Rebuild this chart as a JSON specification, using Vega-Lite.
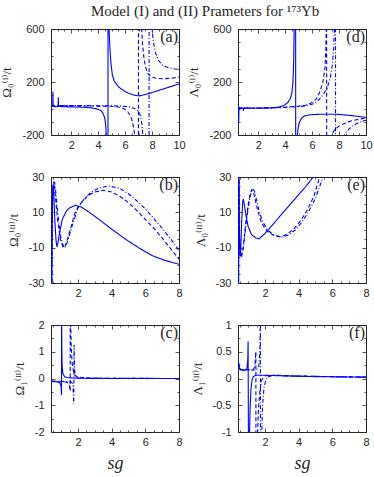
{
"$schema":"https://vega.github.io/schema/vega-lite/v6.json",
"padding":{"left":0,"top":3,"right":2,"bottom":2},
"title":{"text":"Model (I) and (II) Prameters for ¹⁷³Yb","font":"Liberation Serif","fontSize":15,"fontWeight":"normal","color":"#262626","anchor":"start","frame":"group","dx":40,"offset":4},
"datasets":{"d":[
{"p":"a","s":"S","x":0.5,"y":15},{"p":"a","s":"S","x":0.6,"y":15},{"p":"a","s":"S","x":0.63,"y":20},{"p":"a","s":"S","x":0.645,"y":127},{"p":"a","s":"S","x":0.66,"y":18},{"p":"a","s":"S","x":0.8,"y":14},{"p":"a","s":"S","x":1.0,"y":14},{"p":"a","s":"S","x":1.03,"y":18},{"p":"a","s":"S","x":1.045,"y":84},{"p":"a","s":"S","x":1.06,"y":16},{"p":"a","s":"S","x":1.5,"y":13},{"p":"a","s":"S","x":2,"y":12},{"p":"a","s":"S","x":2.5,"y":11},{"p":"a","s":"S","x":3,"y":9},{"p":"a","s":"S","x":3.5,"y":5},{"p":"a","s":"S","x":3.9,"y":-3},{"p":"a","s":"S","x":4.2,"y":-15},{"p":"a","s":"S","x":4.35,"y":-35},{"p":"a","s":"S","x":4.45,"y":-60},{"p":"a","s":"S","x":4.52,"y":-90},{"p":"a","s":"S","x":4.57,"y":-140},{"p":"a","s":"S","x":4.61,"y":-210},{"p":"a","s":"S","x":4.72,"y":-3000},{"p":"a","s":"S","x":4.74,"y":3000},{"p":"a","s":"S","x":4.8,"y":620},{"p":"a","s":"S","x":4.88,"y":441},{"p":"a","s":"S","x":4.95,"y":341},{"p":"a","s":"S","x":5.05,"y":255},{"p":"a","s":"S","x":5.2,"y":205},{"p":"a","s":"S","x":5.55,"y":160},{"p":"a","s":"S","x":6.0,"y":128},{"p":"a","s":"S","x":6.3,"y":113},{"p":"a","s":"S","x":6.7,"y":100},{"p":"a","s":"S","x":7.03,"y":95},{"p":"a","s":"S","x":7.5,"y":105},{"p":"a","s":"S","x":8,"y":120},{"p":"a","s":"S","x":8.5,"y":137},{"p":"a","s":"S","x":9,"y":153},{"p":"a","s":"S","x":9.5,"y":169},{"p":"a","s":"S","x":10,"y":185},
{"p":"a","s":"D","x":0.5,"y":20},{"p":"a","s":"D","x":1,"y":20},{"p":"a","s":"D","x":2,"y":20},{"p":"a","s":"D","x":3,"y":19},{"p":"a","s":"D","x":4,"y":18},{"p":"a","s":"D","x":4.8,"y":17},{"p":"a","s":"D","x":5.3,"y":14},{"p":"a","s":"D","x":5.7,"y":8},{"p":"a","s":"D","x":6.0,"y":-8},{"p":"a","s":"D","x":6.2,"y":-25},{"p":"a","s":"D","x":6.4,"y":-55},{"p":"a","s":"D","x":6.55,"y":-100},{"p":"a","s":"D","x":6.66,"y":-160},{"p":"a","s":"D","x":6.72,"y":-210},{"p":"a","s":"D","x":6.98,"y":-3000},{"p":"a","s":"D","x":7.0,"y":3000},{"p":"a","s":"D","x":7.22,"y":620},{"p":"a","s":"D","x":7.3,"y":480},{"p":"a","s":"D","x":7.4,"y":380},{"p":"a","s":"D","x":7.5,"y":320},{"p":"a","s":"D","x":7.65,"y":270},{"p":"a","s":"D","x":7.9,"y":240},{"p":"a","s":"D","x":8.3,"y":228},{"p":"a","s":"D","x":8.8,"y":224},{"p":"a","s":"D","x":9.4,"y":228},{"p":"a","s":"D","x":10,"y":237},
{"p":"a","s":"C","x":0.5,"y":22},{"p":"a","s":"C","x":2,"y":22},{"p":"a","s":"C","x":4,"y":21},{"p":"a","s":"C","x":5,"y":20},{"p":"a","s":"C","x":5.8,"y":18},{"p":"a","s":"C","x":6.3,"y":12},{"p":"a","s":"C","x":6.7,"y":0},{"p":"a","s":"C","x":7.0,"y":-20},{"p":"a","s":"C","x":7.15,"y":-60},{"p":"a","s":"C","x":7.25,"y":-120},{"p":"a","s":"C","x":7.32,"y":-210},{"p":"a","s":"C","x":7.77,"y":-3000},{"p":"a","s":"C","x":7.79,"y":3000},{"p":"a","s":"C","x":7.98,"y":620},{"p":"a","s":"C","x":8.1,"y":500},{"p":"a","s":"C","x":8.27,"y":416},{"p":"a","s":"C","x":8.5,"y":360},{"p":"a","s":"C","x":8.77,"y":328},{"p":"a","s":"C","x":9.2,"y":308},{"p":"a","s":"C","x":9.6,"y":300},{"p":"a","s":"C","x":10,"y":296},
{"p":"d","s":"S","x":0.5,"y":5},{"p":"d","s":"S","x":0.53,"y":5},{"p":"d","s":"S","x":0.55,"y":-112},{"p":"d","s":"S","x":0.57,"y":5},{"p":"d","s":"S","x":0.8,"y":3},{"p":"d","s":"S","x":0.88,"y":3},{"p":"d","s":"S","x":0.9,"y":-19},{"p":"d","s":"S","x":0.92,"y":3},{"p":"d","s":"S","x":1.5,"y":2},{"p":"d","s":"S","x":2,"y":2},{"p":"d","s":"S","x":2.5,"y":3},{"p":"d","s":"S","x":3,"y":5},{"p":"d","s":"S","x":3.5,"y":10},{"p":"d","s":"S","x":3.9,"y":22},{"p":"d","s":"S","x":4.2,"y":45},{"p":"d","s":"S","x":4.4,"y":80},{"p":"d","s":"S","x":4.5,"y":120},{"p":"d","s":"S","x":4.58,"y":200},{"p":"d","s":"S","x":4.63,"y":350},{"p":"d","s":"S","x":4.67,"y":620},{"p":"d","s":"S","x":4.77,"y":3000},{"p":"d","s":"S","x":4.79,"y":-3000},{"p":"d","s":"S","x":4.9,"y":-210},{"p":"d","s":"S","x":4.96,"y":-150},{"p":"d","s":"S","x":5.03,"y":-112},{"p":"d","s":"S","x":5.2,"y":-75},{"p":"d","s":"S","x":5.4,"y":-57},{"p":"d","s":"S","x":5.8,"y":-48},{"p":"d","s":"S","x":6.4,"y":-44},{"p":"d","s":"S","x":7.2,"y":-43},{"p":"d","s":"S","x":7.9,"y":-44},{"p":"d","s":"S","x":8.6,"y":-50},{"p":"d","s":"S","x":9.3,"y":-58},{"p":"d","s":"S","x":10,"y":-67},
{"p":"d","s":"D","x":0.5,"y":3},{"p":"d","s":"D","x":1,"y":3},{"p":"d","s":"D","x":2,"y":4},{"p":"d","s":"D","x":3,"y":6},{"p":"d","s":"D","x":4,"y":10},{"p":"d","s":"D","x":5,"y":18},{"p":"d","s":"D","x":5.5,"y":25},{"p":"d","s":"D","x":5.9,"y":40},{"p":"d","s":"D","x":6.3,"y":70},{"p":"d","s":"D","x":6.6,"y":130},{"p":"d","s":"D","x":6.8,"y":200},{"p":"d","s":"D","x":6.95,"y":300},{"p":"d","s":"D","x":7.02,"y":450},{"p":"d","s":"D","x":7.05,"y":620},{"p":"d","s":"D","x":7.07,"y":3000},{"p":"d","s":"D","x":7.09,"y":-3000},{"p":"d","s":"D","x":7.4,"y":-230},{"p":"d","s":"D","x":7.5,"y":-190},{"p":"d","s":"D","x":7.7,"y":-155},{"p":"d","s":"D","x":8.12,"y":-125},{"p":"d","s":"D","x":8.87,"y":-95},{"p":"d","s":"D","x":9.5,"y":-80},{"p":"d","s":"D","x":10,"y":-72},
{"p":"d","s":"C","x":0.5,"y":3},{"p":"d","s":"C","x":2,"y":4},{"p":"d","s":"C","x":3,"y":5},{"p":"d","s":"C","x":4,"y":8},{"p":"d","s":"C","x":5,"y":14},{"p":"d","s":"C","x":5.5,"y":20},{"p":"d","s":"C","x":6,"y":32},{"p":"d","s":"C","x":6.4,"y":55},{"p":"d","s":"C","x":6.8,"y":100},{"p":"d","s":"C","x":7.1,"y":150},{"p":"d","s":"C","x":7.35,"y":230},{"p":"d","s":"C","x":7.5,"y":330},{"p":"d","s":"C","x":7.6,"y":450},{"p":"d","s":"C","x":7.66,"y":620},{"p":"d","s":"C","x":7.73,"y":3000},{"p":"d","s":"C","x":7.75,"y":-3000},{"p":"d","s":"C","x":8.3,"y":-220},{"p":"d","s":"C","x":8.5,"y":-180},{"p":"d","s":"C","x":8.8,"y":-150},{"p":"d","s":"C","x":9.11,"y":-125},{"p":"d","s":"C","x":9.5,"y":-105},{"p":"d","s":"C","x":10,"y":-88},
{"p":"b","s":"S","x":0.44,"y":-40},{"p":"b","s":"S","x":0.47,"y":5},{"p":"b","s":"S","x":0.5,"y":22},{"p":"b","s":"S","x":0.53,"y":26},{"p":"b","s":"S","x":0.57,"y":20},{"p":"b","s":"S","x":0.63,"y":5},{"p":"b","s":"S","x":0.7,"y":-6},{"p":"b","s":"S","x":0.75,"y":-9.5},{"p":"b","s":"S","x":0.8,"y":-8},{"p":"b","s":"S","x":0.9,"y":-2},{"p":"b","s":"S","x":1.07,"y":6},{"p":"b","s":"S","x":1.3,"y":10.5},{"p":"b","s":"S","x":1.5,"y":12.5},{"p":"b","s":"S","x":1.85,"y":14},{"p":"b","s":"S","x":2.2,"y":13},{"p":"b","s":"S","x":2.6,"y":10.5},{"p":"b","s":"S","x":3.25,"y":6},{"p":"b","s":"S","x":4,"y":0.5},{"p":"b","s":"S","x":4.84,"y":-5.3},{"p":"b","s":"S","x":5.6,"y":-10},{"p":"b","s":"S","x":6.4,"y":-14.5},{"p":"b","s":"S","x":7.2,"y":-17.3},{"p":"b","s":"S","x":8,"y":-19.4},
{"p":"b","s":"D","x":0.44,"y":-40},{"p":"b","s":"D","x":0.47,"y":10},{"p":"b","s":"D","x":0.53,"y":26},{"p":"b","s":"D","x":0.58,"y":27.5},{"p":"b","s":"D","x":0.65,"y":20},{"p":"b","s":"D","x":0.8,"y":5},{"p":"b","s":"D","x":0.95,"y":-5},{"p":"b","s":"D","x":1.1,"y":-9.5},{"p":"b","s":"D","x":1.2,"y":-10},{"p":"b","s":"D","x":1.35,"y":-6},{"p":"b","s":"D","x":1.6,"y":2},{"p":"b","s":"D","x":1.8,"y":9},{"p":"b","s":"D","x":2.0,"y":13},{"p":"b","s":"D","x":2.2,"y":15.5},{"p":"b","s":"D","x":2.6,"y":19.5},{"p":"b","s":"D","x":3.0,"y":21.5},{"p":"b","s":"D","x":3.5,"y":22.5},{"p":"b","s":"D","x":4.0,"y":21.5},{"p":"b","s":"D","x":4.5,"y":19},{"p":"b","s":"D","x":5,"y":15.5},{"p":"b","s":"D","x":5.5,"y":11},{"p":"b","s":"D","x":6,"y":6},{"p":"b","s":"D","x":6.5,"y":1},{"p":"b","s":"D","x":7,"y":-4.5},{"p":"b","s":"D","x":7.5,"y":-10.5},{"p":"b","s":"D","x":8,"y":-16.5},
{"p":"b","s":"C","x":0.44,"y":-40},{"p":"b","s":"C","x":0.48,"y":10},{"p":"b","s":"C","x":0.55,"y":25},{"p":"b","s":"C","x":0.62,"y":27},{"p":"b","s":"C","x":0.7,"y":20},{"p":"b","s":"C","x":0.85,"y":5},{"p":"b","s":"C","x":1.0,"y":-5},{"p":"b","s":"C","x":1.15,"y":-9.5},{"p":"b","s":"C","x":1.25,"y":-10},{"p":"b","s":"C","x":1.4,"y":-6},{"p":"b","s":"C","x":1.65,"y":2},{"p":"b","s":"C","x":2,"y":12.5},{"p":"b","s":"C","x":2.4,"y":18},{"p":"b","s":"C","x":2.8,"y":21.5},{"p":"b","s":"C","x":3.2,"y":23.5},{"p":"b","s":"C","x":3.8,"y":25},{"p":"b","s":"C","x":4.5,"y":23.5},{"p":"b","s":"C","x":5,"y":20.5},{"p":"b","s":"C","x":5.5,"y":16.5},{"p":"b","s":"C","x":6,"y":12},{"p":"b","s":"C","x":6.5,"y":6.5},{"p":"b","s":"C","x":7,"y":1},{"p":"b","s":"C","x":7.5,"y":-5},{"p":"b","s":"C","x":8,"y":-11.5},
{"p":"e","s":"S","x":0.43,"y":-40},{"p":"e","s":"S","x":0.45,"y":40},{"p":"e","s":"S","x":0.48,"y":0},{"p":"e","s":"S","x":0.52,"y":-15},{"p":"e","s":"S","x":0.56,"y":-12},{"p":"e","s":"S","x":0.62,"y":5},{"p":"e","s":"S","x":0.68,"y":16},{"p":"e","s":"S","x":0.72,"y":17.5},{"p":"e","s":"S","x":0.78,"y":14},{"p":"e","s":"S","x":0.88,"y":8},{"p":"e","s":"S","x":1.0,"y":2},{"p":"e","s":"S","x":1.2,"y":-2.5},{"p":"e","s":"S","x":1.45,"y":-4.5},{"p":"e","s":"S","x":1.65,"y":-5},{"p":"e","s":"S","x":2.0,"y":-2},{"p":"e","s":"S","x":2.5,"y":3.5},{"p":"e","s":"S","x":3,"y":9},{"p":"e","s":"S","x":3.5,"y":14.5},{"p":"e","s":"S","x":4,"y":20},{"p":"e","s":"S","x":4.5,"y":25.5},{"p":"e","s":"S","x":4.95,"y":31},
{"p":"e","s":"D","x":0.43,"y":-40},{"p":"e","s":"D","x":0.45,"y":40},{"p":"e","s":"D","x":0.48,"y":0},{"p":"e","s":"D","x":0.53,"y":-14},{"p":"e","s":"D","x":0.6,"y":-15.5},{"p":"e","s":"D","x":0.7,"y":-11},{"p":"e","s":"D","x":0.85,"y":3},{"p":"e","s":"D","x":1.0,"y":14},{"p":"e","s":"D","x":1.12,"y":20.5},{"p":"e","s":"D","x":1.22,"y":22.8},{"p":"e","s":"D","x":1.32,"y":21.5},{"p":"e","s":"D","x":1.45,"y":16},{"p":"e","s":"D","x":1.6,"y":10},{"p":"e","s":"D","x":1.8,"y":4},{"p":"e","s":"D","x":2.1,"y":-0.5},{"p":"e","s":"D","x":2.5,"y":-3},{"p":"e","s":"D","x":2.9,"y":-3.8},{"p":"e","s":"D","x":3.3,"y":-2.5},{"p":"e","s":"D","x":3.7,"y":0.5},{"p":"e","s":"D","x":4.1,"y":5},{"p":"e","s":"D","x":4.5,"y":11},{"p":"e","s":"D","x":4.9,"y":19},{"p":"e","s":"D","x":5.25,"y":30},{"p":"e","s":"D","x":5.3,"y":31},
{"p":"e","s":"C","x":0.43,"y":-40},{"p":"e","s":"C","x":0.45,"y":40},{"p":"e","s":"C","x":0.48,"y":0},{"p":"e","s":"C","x":0.54,"y":-13},{"p":"e","s":"C","x":0.62,"y":-14.5},{"p":"e","s":"C","x":0.72,"y":-10},{"p":"e","s":"C","x":0.88,"y":4},{"p":"e","s":"C","x":1.05,"y":15},{"p":"e","s":"C","x":1.18,"y":21.5},{"p":"e","s":"C","x":1.28,"y":23.2},{"p":"e","s":"C","x":1.38,"y":22},{"p":"e","s":"C","x":1.5,"y":17},{"p":"e","s":"C","x":1.65,"y":11},{"p":"e","s":"C","x":1.85,"y":5},{"p":"e","s":"C","x":2.15,"y":0},{"p":"e","s":"C","x":2.55,"y":-3},{"p":"e","s":"C","x":3.0,"y":-4},{"p":"e","s":"C","x":3.4,"y":-2.8},{"p":"e","s":"C","x":3.8,"y":0},{"p":"e","s":"C","x":4.2,"y":4.5},{"p":"e","s":"C","x":4.6,"y":10.5},{"p":"e","s":"C","x":5.0,"y":18},{"p":"e","s":"C","x":5.45,"y":30},{"p":"e","s":"C","x":5.5,"y":31},
{"p":"c","s":"S","x":0.42,"y":-0.1},{"p":"c","s":"S","x":0.6,"y":-0.12},{"p":"c","s":"S","x":0.8,"y":-0.13},{"p":"c","s":"S","x":0.95,"y":-0.17},{"p":"c","s":"S","x":1.0,"y":-0.3},{"p":"c","s":"S","x":1.025,"y":-0.62},{"p":"c","s":"S","x":1.03,"y":3},{"p":"c","s":"S","x":1.04,"y":1.2},{"p":"c","s":"S","x":1.06,"y":0.5},{"p":"c","s":"S","x":1.1,"y":0.2},{"p":"c","s":"S","x":1.2,"y":0.07},{"p":"c","s":"S","x":1.4,"y":0.03},{"p":"c","s":"S","x":2,"y":0.01},{"p":"c","s":"S","x":4,"y":0},{"p":"c","s":"S","x":8,"y":0},
{"p":"c","s":"D","x":0.42,"y":-0.1},{"p":"c","s":"D","x":1.0,"y":-0.12},{"p":"c","s":"D","x":1.35,"y":-0.14},{"p":"c","s":"D","x":1.48,"y":-0.22},{"p":"c","s":"D","x":1.54,"y":-0.47},{"p":"c","s":"D","x":1.545,"y":3},{"p":"c","s":"D","x":1.56,"y":2.4},{"p":"c","s":"D","x":1.6,"y":1.2},{"p":"c","s":"D","x":1.65,"y":0.6},{"p":"c","s":"D","x":1.72,"y":0.3},{"p":"c","s":"D","x":1.82,"y":0.12},{"p":"c","s":"D","x":2,"y":0.05},{"p":"c","s":"D","x":3,"y":0.01},{"p":"c","s":"D","x":8,"y":0},
{"p":"c","s":"C","x":0.42,"y":-0.1},{"p":"c","s":"C","x":1.2,"y":-0.11},{"p":"c","s":"C","x":1.6,"y":-0.13},{"p":"c","s":"C","x":1.7,"y":-0.2},{"p":"c","s":"C","x":1.75,"y":-0.95},{"p":"c","s":"C","x":1.77,"y":1.26},{"p":"c","s":"C","x":1.8,"y":0.3},{"p":"c","s":"C","x":1.85,"y":0.1},{"p":"c","s":"C","x":1.95,"y":0.03},{"p":"c","s":"C","x":2.2,"y":0.01},{"p":"c","s":"C","x":8,"y":0},
{"p":"f","s":"S","x":0.42,"y":0.32},{"p":"f","s":"S","x":0.48,"y":0.2},{"p":"f","s":"S","x":0.55,"y":0.16},{"p":"f","s":"S","x":0.8,"y":0.155},{"p":"f","s":"S","x":0.93,"y":0.18},{"p":"f","s":"S","x":0.98,"y":0.35},{"p":"f","s":"S","x":1.0,"y":0.69},{"p":"f","s":"S","x":1.04,"y":-3},{"p":"f","s":"S","x":1.08,"y":-1.1},{"p":"f","s":"S","x":1.12,"y":-0.55},{"p":"f","s":"S","x":1.17,"y":-0.2},{"p":"f","s":"S","x":1.24,"y":-0.02},{"p":"f","s":"S","x":1.32,"y":0.04},{"p":"f","s":"S","x":1.5,"y":0.06},{"p":"f","s":"S","x":2,"y":0.06},{"p":"f","s":"S","x":3,"y":0.05},{"p":"f","s":"S","x":5,"y":0.035},{"p":"f","s":"S","x":8,"y":0.025},
{"p":"f","s":"D","x":0.42,"y":0.3},{"p":"f","s":"D","x":0.5,"y":0.18},{"p":"f","s":"D","x":0.7,"y":0.16},{"p":"f","s":"D","x":1.3,"y":0.165},{"p":"f","s":"D","x":1.4,"y":0.22},{"p":"f","s":"D","x":1.46,"y":0.5},{"p":"f","s":"D","x":1.47,"y":-3},{"p":"f","s":"D","x":1.55,"y":-1.1},{"p":"f","s":"D","x":1.62,"y":-0.55},{"p":"f","s":"D","x":1.7,"y":-0.22},{"p":"f","s":"D","x":1.8,"y":-0.03},{"p":"f","s":"D","x":2.0,"y":0.05},{"p":"f","s":"D","x":2.5,"y":0.06},{"p":"f","s":"D","x":4,"y":0.045},{"p":"f","s":"D","x":8,"y":0.025},
{"p":"f","s":"C","x":0.42,"y":0.3},{"p":"f","s":"C","x":0.5,"y":0.18},{"p":"f","s":"C","x":0.7,"y":0.16},{"p":"f","s":"C","x":1.5,"y":0.16},{"p":"f","s":"C","x":1.63,"y":0.22},{"p":"f","s":"C","x":1.7,"y":0.5},{"p":"f","s":"C","x":1.73,"y":1.2},{"p":"f","s":"C","x":1.735,"y":-3},{"p":"f","s":"C","x":1.8,"y":-1.1},{"p":"f","s":"C","x":1.86,"y":-0.5},{"p":"f","s":"C","x":1.95,"y":-0.15},{"p":"f","s":"C","x":2.1,"y":0.02},{"p":"f","s":"C","x":2.5,"y":0.06},{"p":"f","s":"C","x":4,"y":0.045},{"p":"f","s":"C","x":8,"y":0.025}
]},
"data":{"name":"d"},
"columns":2,
"spacing":{"row":42,"column":59},
"bounds":"flush",
"concat":[
{"width":128,"height":106,
 "title":{"text":"(a)","anchor":"end","frame":"group","offset":-22,"dx":-1,"font":"Liberation Serif","fontSize":16,"fontWeight":"normal","color":"#262626"},
 "transform":[{"filter":"datum.p==='a'"}],
 "layer":[
  {"mark":{"type":"line","clip":true,"color":"#0000ff","strokeWidth":1.1},
   "encoding":{
    "x":{"field":"x","type":"quantitative","scale":{"domain":[0.5,10],"nice":false,"zero":false},"axis":{"title":null,"values":[0.5,1,1.5,2,2.5,3,3.5,4,4.5,5,5.5,6,6.5,7,7.5,8,8.5,9,9.5,10],"labelExpr":"datum.value % 2 === 0 ? datum.value + '' : ''","tickSize":{"condition":{"test":"datum.value % 2 === 0","value":-4},"value":-2},"labelPadding":8}},
    "y":{"field":"y","type":"quantitative","scale":{"domain":[-200,600],"nice":false,"zero":false},"axis":{"title":"Ω₀⁽ᴵ⁾/t","values":[-200,-100,0,100,200,300,400,500,600],"labelExpr":"(datum.value + 200) % 400 === 0 ? datum.value + '' : ''","tickSize":{"condition":{"test":"(datum.value + 200) % 400 === 0","value":-4},"value":-2},"labelPadding":11,"titlePadding":8}},
    "strokeDash":{"field":"s","type":"nominal","scale":{"domain":["S","D","C"],"range":[[1,0],[4,2.5],[4,2,1,2]]},"legend":null}}},
  {"mark":{"type":"point","opacity":0,"clip":true},
   "encoding":{
    "x":{"field":"x","type":"quantitative","axis":{"orient":"top","title":null,"labels":false,"values":[0.5,1,1.5,2,2.5,3,3.5,4,4.5,5,5.5,6,6.5,7,7.5,8,8.5,9,9.5,10],"tickSize":{"condition":{"test":"datum.value % 2 === 0","value":-4},"value":-2}}},
    "y":{"field":"y","type":"quantitative","axis":{"orient":"right","title":null,"labels":false,"values":[-200,-100,0,100,200,300,400,500,600],"tickSize":{"condition":{"test":"(datum.value + 200) % 400 === 0","value":-4},"value":-2}}}}}
 ],
 "resolve":{"axis":{"x":"independent","y":"independent"}}},
{"width":128,"height":106,
 "title":{"text":"(d)","anchor":"end","frame":"group","offset":-22,"dx":-1,"font":"Liberation Serif","fontSize":16,"fontWeight":"normal","color":"#262626"},
 "transform":[{"filter":"datum.p==='d'"}],
 "layer":[
  {"mark":{"type":"line","clip":true,"color":"#0000ff","strokeWidth":1.1},
   "encoding":{
    "x":{"field":"x","type":"quantitative","scale":{"domain":[0.5,10],"nice":false,"zero":false},"axis":{"title":null,"values":[0.5,1,1.5,2,2.5,3,3.5,4,4.5,5,5.5,6,6.5,7,7.5,8,8.5,9,9.5,10],"labelExpr":"datum.value % 2 === 0 ? datum.value + '' : ''","tickSize":{"condition":{"test":"datum.value % 2 === 0","value":-4},"value":-2},"labelPadding":8}},
    "y":{"field":"y","type":"quantitative","scale":{"domain":[-200,600],"nice":false,"zero":false},"axis":{"title":"Λ₀⁽ᴵ⁾/t","values":[-200,-100,0,100,200,300,400,500,600],"labelExpr":"(datum.value + 200) % 400 === 0 ? datum.value + '' : ''","tickSize":{"condition":{"test":"(datum.value + 200) % 400 === 0","value":-4},"value":-2},"labelPadding":11,"titlePadding":8}},
    "strokeDash":{"field":"s","type":"nominal","scale":{"domain":["S","D","C"],"range":[[1,0],[4,2.5],[4,2,1,2]]},"legend":null}}},
  {"mark":{"type":"point","opacity":0,"clip":true},
   "encoding":{
    "x":{"field":"x","type":"quantitative","axis":{"orient":"top","title":null,"labels":false,"values":[0.5,1,1.5,2,2.5,3,3.5,4,4.5,5,5.5,6,6.5,7,7.5,8,8.5,9,9.5,10],"tickSize":{"condition":{"test":"datum.value % 2 === 0","value":-4},"value":-2}}},
    "y":{"field":"y","type":"quantitative","axis":{"orient":"right","title":null,"labels":false,"values":[-200,-100,0,100,200,300,400,500,600],"tickSize":{"condition":{"test":"(datum.value + 200) % 400 === 0","value":-4},"value":-2}}}}}
 ],
 "resolve":{"axis":{"x":"independent","y":"independent"}}},
{"width":128,"height":106,
 "title":{"text":"(b)","anchor":"end","frame":"group","offset":-22,"dx":-1,"font":"Liberation Serif","fontSize":16,"fontWeight":"normal","color":"#262626"},
 "transform":[{"filter":"datum.p==='b'"}],
 "layer":[
  {"mark":{"type":"line","clip":true,"color":"#0000ff","strokeWidth":1.1},
   "encoding":{
    "x":{"field":"x","type":"quantitative","scale":{"domain":[0.4,8],"nice":false,"zero":false},"axis":{"title":null,"values":[0.5,1,1.5,2,2.5,3,3.5,4,4.5,5,5.5,6,6.5,7,7.5,8],"labelExpr":"datum.value % 2 === 0 ? datum.value + '' : ''","tickSize":{"condition":{"test":"datum.value % 2 === 0","value":-4},"value":-2},"labelPadding":8}},
    "y":{"field":"y","type":"quantitative","scale":{"domain":[-30,30],"nice":false,"zero":false},"axis":{"title":"Ω₀⁽ᴵᴵ⁾/t","values":[-30,-25,-20,-15,-10,-5,0,5,10,15,20,25,30],"labelExpr":"(datum.value + 30) % 20 === 0 ? datum.value + '' : ''","tickSize":{"condition":{"test":"(datum.value + 30) % 20 === 0","value":-4},"value":-2},"labelPadding":11,"titlePadding":8}},
    "strokeDash":{"field":"s","type":"nominal","scale":{"domain":["S","D","C"],"range":[[1,0],[4,2.5],[4,2,1,2]]},"legend":null}}},
  {"mark":{"type":"point","opacity":0,"clip":true},
   "encoding":{
    "x":{"field":"x","type":"quantitative","axis":{"orient":"top","title":null,"labels":false,"values":[0.5,1,1.5,2,2.5,3,3.5,4,4.5,5,5.5,6,6.5,7,7.5,8],"tickSize":{"condition":{"test":"datum.value % 2 === 0","value":-4},"value":-2}}},
    "y":{"field":"y","type":"quantitative","axis":{"orient":"right","title":null,"labels":false,"values":[-30,-25,-20,-15,-10,-5,0,5,10,15,20,25,30],"tickSize":{"condition":{"test":"(datum.value + 30) % 20 === 0","value":-4},"value":-2}}}}}
 ],
 "resolve":{"axis":{"x":"independent","y":"independent"}}},
{"width":128,"height":106,
 "title":{"text":"(e)","anchor":"end","frame":"group","offset":-22,"dx":-1,"font":"Liberation Serif","fontSize":16,"fontWeight":"normal","color":"#262626"},
 "transform":[{"filter":"datum.p==='e'"}],
 "layer":[
  {"mark":{"type":"line","clip":true,"color":"#0000ff","strokeWidth":1.1},
   "encoding":{
    "x":{"field":"x","type":"quantitative","scale":{"domain":[0.4,8],"nice":false,"zero":false},"axis":{"title":null,"values":[0.5,1,1.5,2,2.5,3,3.5,4,4.5,5,5.5,6,6.5,7,7.5,8],"labelExpr":"datum.value % 2 === 0 ? datum.value + '' : ''","tickSize":{"condition":{"test":"datum.value % 2 === 0","value":-4},"value":-2},"labelPadding":8}},
    "y":{"field":"y","type":"quantitative","scale":{"domain":[-30,30],"nice":false,"zero":false},"axis":{"title":"Λ₀⁽ᴵᴵ⁾/t","values":[-30,-25,-20,-15,-10,-5,0,5,10,15,20,25,30],"labelExpr":"(datum.value + 30) % 20 === 0 ? datum.value + '' : ''","tickSize":{"condition":{"test":"(datum.value + 30) % 20 === 0","value":-4},"value":-2},"labelPadding":11,"titlePadding":8}},
    "strokeDash":{"field":"s","type":"nominal","scale":{"domain":["S","D","C"],"range":[[1,0],[4,2.5],[4,2,1,2]]},"legend":null}}},
  {"mark":{"type":"point","opacity":0,"clip":true},
   "encoding":{
    "x":{"field":"x","type":"quantitative","axis":{"orient":"top","title":null,"labels":false,"values":[0.5,1,1.5,2,2.5,3,3.5,4,4.5,5,5.5,6,6.5,7,7.5,8],"tickSize":{"condition":{"test":"datum.value % 2 === 0","value":-4},"value":-2}}},
    "y":{"field":"y","type":"quantitative","axis":{"orient":"right","title":null,"labels":false,"values":[-30,-25,-20,-15,-10,-5,0,5,10,15,20,25,30],"tickSize":{"condition":{"test":"(datum.value + 30) % 20 === 0","value":-4},"value":-2}}}}}
 ],
 "resolve":{"axis":{"x":"independent","y":"independent"}}},
{"width":128,"height":107,
 "title":{"text":"(c)","anchor":"end","frame":"group","offset":-22,"dx":-1,"font":"Liberation Serif","fontSize":16,"fontWeight":"normal","color":"#262626"},
 "transform":[{"filter":"datum.p==='c'"}],
 "layer":[
  {"mark":{"type":"line","clip":true,"color":"#0000ff","strokeWidth":1.1},
   "encoding":{
    "x":{"field":"x","type":"quantitative","scale":{"domain":[0.4,8],"nice":false,"zero":false},"axis":{"title":"sg","titleFont":"Liberation Serif","titleFontSize":18,"titleFontStyle":"italic","titlePadding":5,"values":[0.5,1,1.5,2,2.5,3,3.5,4,4.5,5,5.5,6,6.5,7,7.5,8],"labelExpr":"datum.value % 2 === 0 ? datum.value + '' : ''","tickSize":{"condition":{"test":"datum.value % 2 === 0","value":-4},"value":-2},"labelPadding":8}},
    "y":{"field":"y","type":"quantitative","scale":{"domain":[-2,2],"nice":false,"zero":false},"axis":{"title":"Ω₁⁽ᴵᴵ⁾/t","values":[-2,-1.5,-1,-0.5,0,0.5,1,1.5,2],"labelExpr":"datum.value % 1 === 0 ? datum.value + '' : ''","tickSize":{"condition":{"test":"datum.value % 1 === 0","value":-4},"value":-2},"labelPadding":11,"titlePadding":8}},
    "strokeDash":{"field":"s","type":"nominal","scale":{"domain":["S","D","C"],"range":[[1,0],[4,2.5],[4,2,1,2]]},"legend":null}}},
  {"mark":{"type":"point","opacity":0,"clip":true},
   "encoding":{
    "x":{"field":"x","type":"quantitative","axis":{"orient":"top","title":null,"labels":false,"values":[0.5,1,1.5,2,2.5,3,3.5,4,4.5,5,5.5,6,6.5,7,7.5,8],"tickSize":{"condition":{"test":"datum.value % 2 === 0","value":-4},"value":-2}}},
    "y":{"field":"y","type":"quantitative","axis":{"orient":"right","title":null,"labels":false,"values":[-2,-1.5,-1,-0.5,0,0.5,1,1.5,2],"tickSize":{"condition":{"test":"datum.value % 1 === 0","value":-4},"value":-2}}}}}
 ],
 "resolve":{"axis":{"x":"independent","y":"independent"}}},
{"width":128,"height":107,
 "title":{"text":"(f)","anchor":"end","frame":"group","offset":-22,"dx":-1,"font":"Liberation Serif","fontSize":16,"fontWeight":"normal","color":"#262626"},
 "transform":[{"filter":"datum.p==='f'"}],
 "layer":[
  {"mark":{"type":"line","clip":true,"color":"#0000ff","strokeWidth":1.1},
   "encoding":{
    "x":{"field":"x","type":"quantitative","scale":{"domain":[0.4,8],"nice":false,"zero":false},"axis":{"title":"sg","titleFont":"Liberation Serif","titleFontSize":18,"titleFontStyle":"italic","titlePadding":5,"values":[0.5,1,1.5,2,2.5,3,3.5,4,4.5,5,5.5,6,6.5,7,7.5,8],"labelExpr":"datum.value % 2 === 0 ? datum.value + '' : ''","tickSize":{"condition":{"test":"datum.value % 2 === 0","value":-4},"value":-2},"labelPadding":8}},
    "y":{"field":"y","type":"quantitative","scale":{"domain":[-1,1],"nice":false,"zero":false},"axis":{"title":"Λ₁⁽ᴵᴵ⁾/t","values":[-1,-0.75,-0.5,-0.25,0,0.25,0.5,0.75,1],"labelExpr":"datum.value % 0.5 === 0 ? datum.value + '' : ''","tickSize":{"condition":{"test":"datum.value % 0.5 === 0","value":-4},"value":-2},"labelPadding":11,"titlePadding":8}},
    "strokeDash":{"field":"s","type":"nominal","scale":{"domain":["S","D","C"],"range":[[1,0],[4,2.5],[4,2,1,2]]},"legend":null}}},
  {"mark":{"type":"point","opacity":0,"clip":true},
   "encoding":{
    "x":{"field":"x","type":"quantitative","axis":{"orient":"top","title":null,"labels":false,"values":[0.5,1,1.5,2,2.5,3,3.5,4,4.5,5,5.5,6,6.5,7,7.5,8],"tickSize":{"condition":{"test":"datum.value % 2 === 0","value":-4},"value":-2}}},
    "y":{"field":"y","type":"quantitative","axis":{"orient":"right","title":null,"labels":false,"values":[-1,-0.75,-0.5,-0.25,0,0.25,0.5,0.75,1],"tickSize":{"condition":{"test":"datum.value % 0.5 === 0","value":-4},"value":-2}}}}}
 ],
 "resolve":{"axis":{"x":"independent","y":"independent"}}}
],
"config":{
 "view":{"stroke":"#262626","strokeWidth":1},
 "axis":{"grid":false,"domain":false,"labelFont":"Liberation Sans","labelFontSize":11,"labelColor":"#262626","tickColor":"#262626","tickWidth":0.8,"labelOverlap":false,"labelFlush":false,"titleFont":"Liberation Serif, DejaVu Serif","titleFontWeight":"normal","titleColor":"#262626","titleFontSize":13}
}
}
